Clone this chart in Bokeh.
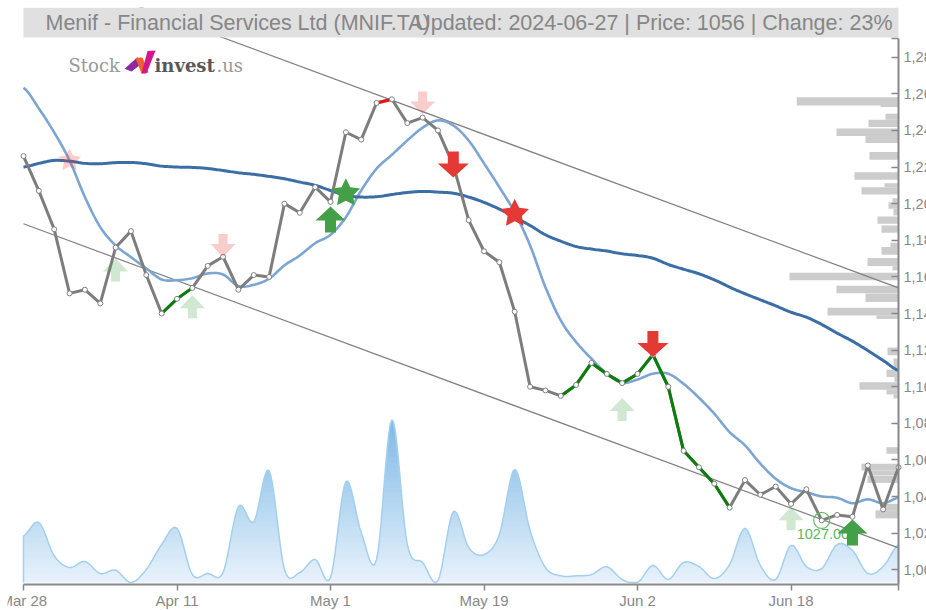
import numpy as np
from bokeh.core.properties import value
from bokeh.embed import file_html
from bokeh.models import FixedTicker, Range1d
from bokeh.plotting import figure
from bokeh.resources import INLINE

title_left = "Menif - Financial Services Ltd (MNIF.TA)"
title_right = "Updated: 2024-06-27 | Price: 1056 | Change: 23%"

date_ticks = [0, 10, 20, 30, 40, 50]
date_labels = ["Mar 28", "Apr 11", "May 1", "May 19", "Jun 2", "Jun 18"]
price_ticks = [1000, 1020, 1040, 1060, 1080, 1100, 1120, 1140, 1160, 1180, 1200, 1220, 1240, 1260, 1280]

price = [1226, 1207, 1186, 1151, 1153, 1145.5, 1176, 1185, 1161, 1140, 1148, 1154, 1166, 1171, 1153, 1161,
         1160, 1200, 1195, 1209, 1201, 1239, 1235, 1255, 1257, 1244, 1247, 1240, 1221, 1191, 1174, 1168,
         1141, 1100, 1098, 1095, 1101, 1113, 1107, 1102, 1107, 1117.5, 1100, 1065, 1056, 1047, 1034, 1049,
         1041, 1045.5, 1036, 1044, 1027, 1030, 1029, 1057, 1033, 1056]

ma_short = [1263.3, 1252, 1238.9, 1223.6, 1203.6, 1187.2, 1177.2, 1170.8, 1164.6, 1158.6, 1158.2, 1159.3,
            1161.9, 1161.3, 1155, 1155.7, 1159, 1166.3, 1171.7, 1178.4, 1183, 1192.6, 1207.2, 1219.1,
            1226.7, 1234.5, 1241.5, 1245.5, 1242.7, 1234.5, 1222, 1209, 1195.2, 1177.2, 1154.4, 1136.2,
            1124.4, 1115.3, 1107.1, 1102.2, 1104, 1107.1, 1107.1, 1101.6, 1094, 1085.3, 1075.2, 1068,
            1058, 1049.8, 1044.6, 1042.4, 1040.1, 1039.4, 1036.4, 1038.5, 1036.4, 1039.4]

ma_long = [1220, 1222, 1223.6, 1223.2, 1222, 1221.8, 1222.4, 1222.5, 1221.8, 1220.5, 1220, 1219.8, 1219.2,
           1218.1, 1216.9, 1216, 1214.9, 1213.6, 1211.8, 1210, 1207.2, 1204.5, 1203.6, 1203.8, 1205, 1206.1,
           1206.7, 1206.3, 1205.7, 1203.6, 1200.7, 1197, 1192.6, 1188.1, 1183, 1179.5, 1176.6, 1175.2, 1174.1,
           1172.6, 1171.7, 1170.2, 1166.8, 1164.2, 1161.7, 1158.4, 1154.4, 1150.8, 1147.5, 1144.2, 1140.7,
           1138, 1134, 1129.3, 1124.9, 1119.8, 1114.4, 1108.9]

volume = [46.7, 60, 26.7, 15, 21, 9, 12.3, 0, 13, 38, 54, 8, 9, 10, 75.7, 60.7, 111.7, 13, 10, 23, 5, 100.7,
          50, 23, 162.7, 38, 20, 2, 70.7, 35, 28, 48, 113, 52, 15, 6.7, 6.7, 8, 15.7, 3, 0, 17, 3, 20, 16, 4,
          18, 54, 17, 3, 37, 16, 14, 38, 32, 9, 16, 38]

channel_x = [0, 57]
channel_upper = [1331, 1154]
channel_lower = [1189, 1012]

green_spans = [(9, 11), (35, 46)]
red_spans = [(23, 24)]

profile_price = [1255.9, 1254.2, 1247.5, 1243.8, 1239, 1235, 1226.1, 1215.1, 1210.1, 1207, 1201.9, 1199, 1195.4,
                 1191, 1186.1, 1177.5, 1174.2, 1168.1, 1164.7, 1160.2, 1153.1, 1148.6, 1141, 1138, 1119.3,
                 1112.7, 1107.3, 1104, 1100.4, 1097.1, 1094.7, 1065.2, 1056.1, 1052.9, 1049.4, 1034.2, 1030.3]
profile_thick = [4.5, 2.7, 3.3, 4, 4.2, 3.8, 4.2, 4.2, 2.2, 4, 2.2, 3.6, 3.7, 4, 4, 2.4, 4.2, 4.4, 2.3, 4.2, 4.2,
                 4.7, 4.2, 1.9, 4.2, 5.4, 4, 2.7, 4.2, 2.6, 2.2, 3.6, 3.7, 2.7, 3.8, 3.7, 4.4]
profile_size = [101.7, 18, 13, 30, 62, 33, 29, 44, 14, 37, 6, 10, 5, 21, 17, 8, 17, 31, 6, 109, 62, 33, 71, 22, 11,
                5, 12, 4, 39, 12, 5, 12, 37, 28, 31, 18, 23]

buy_strong_i, buy_strong_v = [20, 54], [1198.5, 1027.5]
buy_weak_i, buy_weak_v = [6, 11, 39, 50], [1170, 1150, 1093.8, 1034.2]
sell_strong_i, sell_strong_v = [28, 41], [1214.3, 1116.2]
sell_weak_i, sell_weak_v = [13, 26], [1170.8, 1248.7]
star_strong_buy = ([21], [1205.7])
star_strong_sell = ([32], [1194.5])
star_weak_sell = ([3], [1223.6])
low_i, low_v, low_text = 52, 1027, "1027.00"

PAGE_W, PAGE_H = 926, 610
PLOT_L, PLOT_R, PLOT_T, PLOT_B = 23, 898, 38, 584   # drawn chart box on the page
FRAME_L, FRAME_T = 7, 7
N = len(price)
Y_AT_B, Y_AT_T = 992.0, 1290.2
sx = (PLOT_R - PLOT_L) / (N - 1)
sy = (PLOT_B - PLOT_T) / (Y_AT_T - Y_AT_B)
GRAY = "#888888"
FONT = value("Liberation Sans")

p = figure(width=PAGE_W, height=PAGE_H, output_backend="svg", toolbar_location=None,
           x_range=Range1d((FRAME_L - PLOT_L) / sx, (PAGE_W - PLOT_L) / sx),
           y_range=Range1d(Y_AT_B - (PAGE_H - PLOT_B) / sy, Y_AT_B + (PLOT_B - FRAME_T) / sy),
           y_axis_location="right", min_border_left=FRAME_L, min_border_right=0,
           min_border_top=FRAME_T, min_border_bottom=0, outline_line_color=None)
p.grid.visible = False

p.extra_x_ranges["page"] = Range1d(FRAME_L, PAGE_W)
p.extra_y_ranges["page"] = Range1d(PAGE_H, FRAME_T)
p.extra_x_ranges["profile"] = Range1d(PLOT_R - FRAME_L, PLOT_R - PAGE_W)
p.extra_y_ranges["volume"] = Range1d(582 - PAGE_H, 582 - FRAME_T)


def smooth(values, steps=10):
    v = np.asarray(values, dtype=float)
    q = np.concatenate([[v[0]], v, [v[-1]]])
    xs, ys = [], []
    for k in range(len(v) - 1):
        t = np.arange(steps) / steps
        a, b, c, d = q[k], q[k + 1], q[k + 2], q[k + 3]
        ys.append(0.5 * (2 * b + (c - a) * t + (2 * a - 5 * b + 4 * c - d) * t ** 2 + (3 * b - a - 3 * c + d) * t ** 3))
        xs.append(k + t)
    return np.concatenate(xs + [[len(v) - 1]]), np.concatenate(ys + [[v[-1]]])


# volume profile
p.hbar(y=profile_price, left=0, right=profile_size, height=profile_thick, x_range_name="profile",
       fill_color="#cccccc", line_color=None)

# volume area with vertical gradient
vx, vy = smooth(volume)
vy = np.clip(vy, 0, None)
edges = np.linspace(0, 165, 34)
c0, c1 = np.array([232, 242, 251]), np.array([125, 184, 230])
for lo, hi in zip(edges[:-1], edges[1:]):
    mix = (lo + hi) / 2 / 165
    col = "#%02x%02x%02x" % tuple(int(round(a + (b - a) * mix)) for a, b in zip(c0, c1))
    p.varea(x=vx, y1=np.minimum(vy, lo), y2=np.minimum(vy, hi + 0.6), y_range_name="volume", fill_color=col)
p.line(vx, vy, y_range_name="volume", line_color="#a3cfee", line_width=1.5)
p.line([0, 0], [0, volume[0]], y_range_name="volume", line_color="#a3cfee", line_width=1.5)
p.line([N - 1, N - 1], [0, volume[-1]], y_range_name="volume", line_color="#a3cfee", line_width=1.5)

# channel
p.line(channel_x, channel_upper, line_color="#808080", line_width=1.2)
p.line(channel_x, channel_lower, line_color="#808080", line_width=1.2)

# moving averages
mx, my = smooth(ma_short)
p.line(mx, my, line_color="#7ca6d1", line_width=2.6)
mx, my = smooth(ma_long)
p.line(mx, my, line_color="#3a6ea5", line_width=3)

# price
idx = list(range(N))
p.line(idx, price, line_color="#7d7d7d", line_width=3)
for a, b in green_spans:
    p.line(idx[a:b + 1], price[a:b + 1], line_color="#0a7d0a", line_width=3)
for a, b in red_spans:
    p.line(idx[a:b + 1], price[a:b + 1], line_color="#e8141c", line_width=3)
p.scatter(idx, price, marker="circle", size=5, fill_color="white", line_color="#808080", line_width=1)

# low marker
p.scatter([low_i], [low_v], marker="circle", size=16, fill_color=None, line_color="#66bb6a", line_width=1.2)
p.text([low_i], [low_v], text=[low_text], x_offset=-25, y_offset=14, text_color="#5cb860",
       text_font=FONT, text_font_size="14.5px", text_baseline="middle", text_align="left")


def arrows(ii, vv, direction, w, head, shaft, total, color, alpha):
    outline = [(0, 0), (w / 2, head), (shaft / 2, head), (shaft / 2, total), (-shaft / 2, total),
               (-shaft / 2, head), (-w / 2, head)]
    xs = [[i + dx / sx for dx, _ in outline] for i in ii]
    ys = [[val - direction * dy / sy for _, dy in outline] for val in vv]
    p.patches(xs, ys, fill_color=color, fill_alpha=alpha, line_color=None)


def stars(ii, vv, r, color, alpha=1.0):
    ang = np.pi / 2 + np.arange(10) * np.pi / 5
    rad = np.where(np.arange(10) % 2 == 0, r, r * 0.5)
    xs = [list(i + rad * np.cos(ang) / sx) for i in ii]
    ys = [list(val + rad * np.sin(ang) / sy) for val in vv]
    p.patches(xs, ys, fill_color=color, fill_alpha=alpha, line_color=None)


RED, GREEN = "#e53935", "#43a047"
arrows(buy_weak_i, buy_weak_v, 1, 25, 13, 9, 23, GREEN, 0.25)
arrows(sell_weak_i, sell_weak_v, -1, 25, 13, 9, 23, RED, 0.25)
arrows(buy_strong_i, buy_strong_v, 1, 30, 14, 11, 26, GREEN, 1)
arrows(sell_strong_i, sell_strong_v, -1, 31, 14, 11, 26, RED, 1)
stars(*star_weak_sell, 12, RED, 0.25)
stars(*star_strong_buy, 15, GREEN)
stars(*star_strong_sell, 15, RED)

# title bar (page-pixel range)
page = dict(x_range_name="page", y_range_name="page")
p.quad(left=[PLOT_L], right=[PLOT_R], top=[FRAME_T], bottom=[37], fill_color="#e0e0e0", line_color=None, **page)
p.text([45], [22], text=[title_left], text_color="#868686", text_font=FONT, text_font_size="21.5px",
       text_baseline="middle", text_align="left", **page)
p.text([892], [22], text=[title_right], text_color="#868686", text_font=FONT, text_font_size="21.5px",
       text_baseline="middle", text_align="right", **page)

# logo
serif = value("DejaVu Serif")
p.text([68], [65], text=["Stock"], text_color="#999999", text_font=serif, text_font_size="18px",
       text_baseline="middle", **page)
p.text([154], [65], text=["invest"], text_color="#585858", text_font=serif, text_font_size="18px",
       text_font_style="bold", text_baseline="middle", **page)
p.text([216], [65], text=[".us"], text_color="#999999", text_font=serif, text_font_size="18px",
       text_baseline="middle", **page)
p.patch([124, 137, 143, 131], [68.3, 56.7, 62, 71], fill_color="#8e2a9e", line_color=None, **page)
p.patch([135, 142, 148, 141], [57.5, 57, 72, 73], fill_color="#f0622d", line_color=None, **page)
p.patch([141, 146, 155, 147], [73, 73, 50, 50.5], fill_color="#d4188a", line_color=None, **page)

# axes
xa = p.xaxis[0]
xa.fixed_location = Y_AT_B
xa.bounds = (0, N - 1)
xa.ticker = FixedTicker(ticks=date_ticks + [N - 1])
xa.major_label_overrides = {**dict(zip(date_ticks, date_labels)), N - 1: " "}
xa.major_tick_in, xa.major_tick_out = 0, 6
xa.minor_tick_line_color = None
xa.axis_line_color = GRAY
xa.axis_line_width = 2
xa.major_tick_line_color = GRAY
xa.major_tick_line_width = 1.5
xa.major_label_text_color = GRAY
xa.major_label_text_font = "Liberation Sans"
xa.major_label_text_font_size = "15px"
xa.major_label_standoff = 1

ya = p.yaxis[0]
ya.fixed_location = N - 1
ya.bounds = (Y_AT_B, Y_AT_T)
ya.ticker = FixedTicker(ticks=price_ticks + [Y_AT_T])
ya.major_label_overrides = {**{t: f"{t:,}" for t in price_ticks}, Y_AT_T: " "}
ya.major_tick_in, ya.major_tick_out = 7, 0
ya.minor_tick_line_color = None
ya.axis_line_color = GRAY
ya.axis_line_width = 2
ya.major_tick_line_color = GRAY
ya.major_tick_line_width = 1.5
ya.major_label_text_color = GRAY
ya.major_label_text_font = "Liberation Sans"
ya.major_label_text_font_size = "14.5px"
ya.major_label_standoff = 5

open("out.html", "w").write(file_html(p, INLINE))
